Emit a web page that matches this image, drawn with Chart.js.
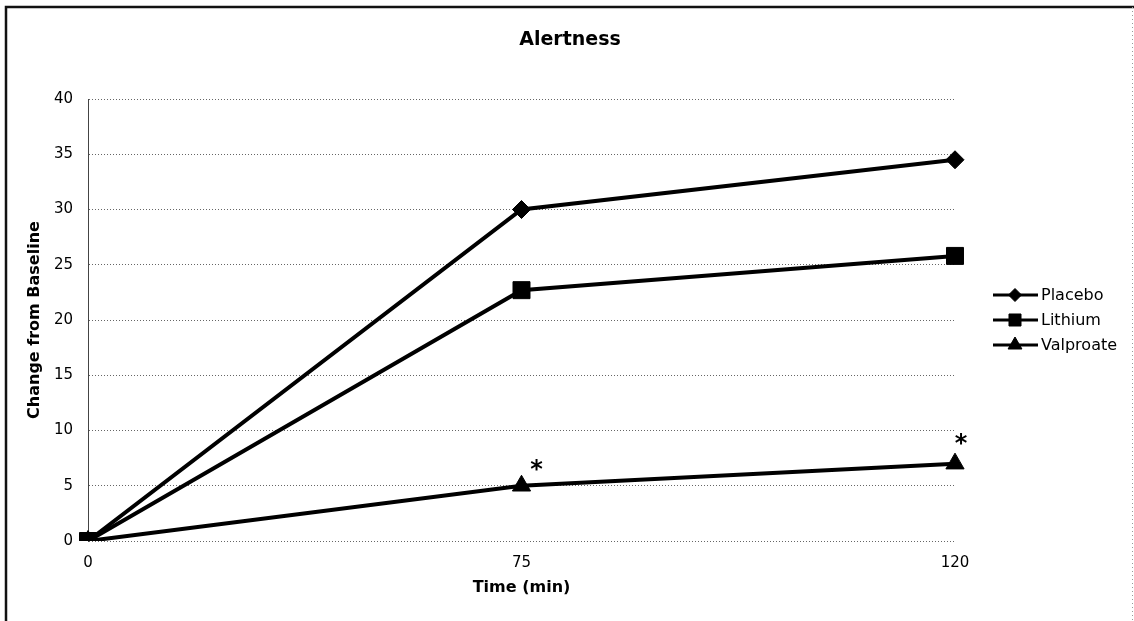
<!DOCTYPE html>
<html lang="en">
  <head>
    <meta charset="UTF-8" />
    <title>Alertness</title>
    <script src="https://cdn.jsdelivr.net/npm/chart.js"></script>
    <style>
      html,
      body {
        margin: 0;
        padding: 0;
        background: #fff;
      }
    </style>
  </head>
  <body>
    <canvas id="alertChart" width="1134" height="621"></canvas>
    <script>
      const chartTitle = "Alertness";
      const timeLabels = ["0", "75", "120"];
      const placebo = [0, 30, 34.5];
      const lithium = [0, 22.7, 25.8];
      const valproate = [0, 5, 7];
      const seriesNames = ["Placebo", "Lithium", "Valproate"];
      // valproate points marked with an asterisk
      const starIndexes = [1, 2];

      const FONT = "'DejaVu Sans', Verdana, sans-serif";
      Chart.defaults.font.family = FONT;
      Chart.defaults.color = "#000";

      function drawMarker(ctx, style, r, x, y) {
        if (Chart.helpers && Chart.helpers.drawPoint) {
          Chart.helpers.drawPoint(ctx, { pointStyle: style, radius: r, rotation: 0, borderWidth: 1 }, x, y);
          return;
        }
        ctx.beginPath();
        if (style === "rect") {
          const s = r * Math.SQRT1_2;
          ctx.rect(x - s, y - s, 2 * s, 2 * s);
        } else if (style === "rectRot") {
          ctx.moveTo(x - r, y);
          ctx.lineTo(x, y - r);
          ctx.lineTo(x + r, y);
          ctx.lineTo(x, y + r);
        } else {
          ctx.moveTo(x, y - r);
          ctx.lineTo(x + r * 0.866, y + r / 2);
          ctx.lineTo(x - r * 0.866, y + r / 2);
        }
        ctx.closePath();
        ctx.fill();
        ctx.stroke();
      }

      const framePlugin = {
        id: "frame",
        beforeDraw(chart) {
          const ctx = chart.ctx;
          ctx.save();
          ctx.fillStyle = "#fff";
          ctx.fillRect(0, 0, chart.width, chart.height);
          ctx.restore();
        },
        afterDraw(chart) {
          const ctx = chart.ctx;
          ctx.save();
          ctx.strokeStyle = "#111";
          ctx.lineWidth = 2.5;
          ctx.beginPath();
          ctx.moveTo(6, chart.height);
          ctx.lineTo(6, 7);
          ctx.lineTo(chart.width, 7);
          ctx.stroke();
          ctx.strokeStyle = "#999";
          ctx.lineWidth = 1;
          ctx.setLineDash([1, 3]);
          ctx.beginPath();
          ctx.moveTo(chart.width - 1.5, 7);
          ctx.lineTo(chart.width - 1.5, chart.height);
          ctx.stroke();
          ctx.restore();

          // title, centred on the whole picture
          ctx.save();
          ctx.font = "bold 19px " + FONT;
          ctx.textAlign = "center";
          ctx.textBaseline = "middle";
          ctx.fillStyle = "#000";
          ctx.fillText(chartTitle, chart.width / 2 + 3, 40);
          ctx.restore();
        },
      };

      // side legend: line with marker, then name
      const sideLegend = {
        id: "sideLegend",
        afterDraw(chart) {
          const ctx = chart.ctx;
          const area = chart.chartArea;
          const x0 = area.right + 38;
          const midY = (area.top + area.bottom) / 2;
          const sizes = { rectRot: 6.5, rect: 8.5, triangle: 8 };
          ctx.save();
          chart.data.datasets.forEach((ds, i) => {
            const y = midY + (i - 1) * 25;
            ctx.strokeStyle = "#000";
            ctx.fillStyle = "#000";
            ctx.lineWidth = 3;
            ctx.beginPath();
            ctx.moveTo(x0, y);
            ctx.lineTo(x0 + 45, y);
            ctx.stroke();
            ctx.lineWidth = 1;
            drawMarker(ctx, ds.pointStyle, sizes[ds.pointStyle], x0 + 22, y);
            ctx.font = "16px " + FONT;
            ctx.textAlign = "left";
            ctx.textBaseline = "middle";
            ctx.fillStyle = "#000";
            ctx.fillText(ds.label, x0 + 48, y + 1);
          });
          ctx.restore();
        },
      };

      const starPlugin = {
        id: "stars",
        afterDatasetsDraw(chart) {
          const ctx = chart.ctx;
          const xs = chart.scales.x;
          const ys = chart.scales.y;
          const shift = [
            [15, -23],
            [6, -27],
          ];
          ctx.save();
          ctx.font = "bold 24px " + FONT;
          ctx.textAlign = "center";
          ctx.textBaseline = "alphabetic";
          ctx.fillStyle = "#000";
          starIndexes.forEach((idx, k) => {
            const px = xs.getPixelForValue(idx);
            const py = ys.getPixelForValue(valproate[idx]);
            ctx.fillText("*", px + shift[k][0], py + shift[k][1] + 14);
          });
          ctx.restore();
        },
      };

      const ctx = document.getElementById("alertChart").getContext("2d");
      new Chart(ctx, {
        type: "line",
        data: {
          labels: timeLabels,
          datasets: [
            {
              label: seriesNames[0],
              data: placebo,
              pointStyle: "rectRot",
              pointRadius: 9,
              order: 1,
            },
            {
              label: seriesNames[1],
              data: lithium,
              pointStyle: "rect",
              pointRadius: 12,
              order: 0,
            },
            {
              label: seriesNames[2],
              data: valproate,
              pointStyle: "triangle",
              pointRadius: 10.5,
              order: 2,
            },
          ].map((d) =>
            Object.assign(d, {
              borderColor: "#000",
              backgroundColor: "#000",
              borderWidth: 4,
              pointBackgroundColor: "#000",
              pointBorderColor: "#000",
              pointBorderWidth: 1,
              tension: 0,
            })
          ),
        },
        options: {
          responsive: false,
          animation: false,
          events: [],
          layout: { padding: { left: 0, right: 179, top: 99, bottom: 0 } },
          plugins: {
            legend: { display: false },
            tooltip: { enabled: false },
            title: { display: false },
          },
          scales: {
            x: {
              offset: false,
              grid: { display: false },
              border: { display: false },
              ticks: { font: { size: 15 }, padding: 5 },
              title: {
                display: true,
                text: "Time (min)",
                font: { size: 16, weight: "bold" },
                padding: { top: 0, bottom: 24 },
              },
              afterFit(scale) {
                scale.height = 80;
              },
            },
            y: {
              min: 0,
              max: 40,
              ticks: { stepSize: 5, font: { size: 15 }, padding: 15 },
              grid: { color: "#666", lineWidth: 1, drawTicks: false },
              border: { display: true, color: "#444", dash: [1, 2] },
              title: {
                display: true,
                text: "Change from Baseline",
                font: { size: 16, weight: "bold" },
                padding: { top: 25, bottom: 0 },
              },
              afterFit(scale) {
                scale.width = 88;
              },
            },
          },
        },
        plugins: [framePlugin, sideLegend, starPlugin],
      });
    </script>
  </body>
</html>
